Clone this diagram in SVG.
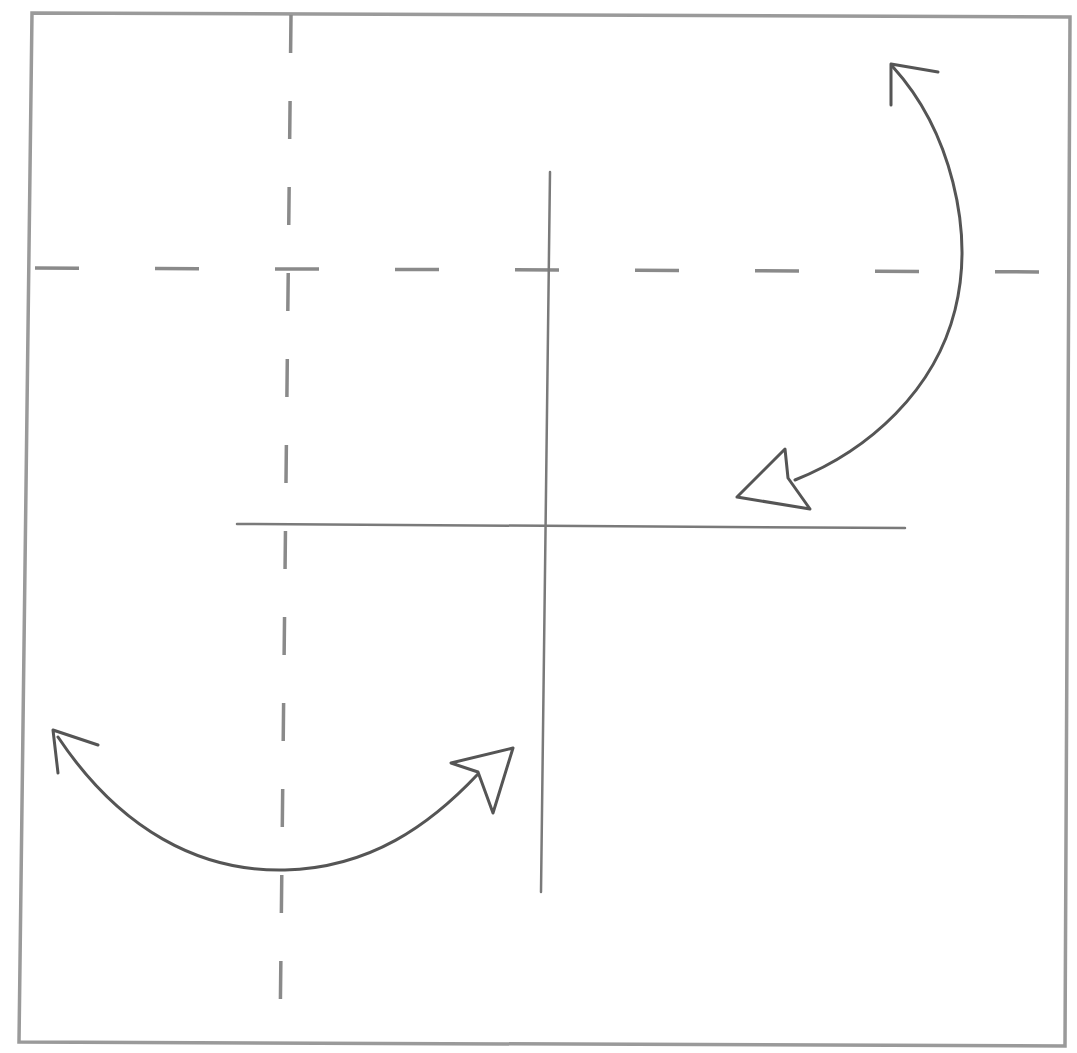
<svg xmlns="http://www.w3.org/2000/svg" width="1077" height="1053" viewBox="0 0 1077 1053">
  <style>
    .paper { fill: #ffffff; stroke: #9a9a9a; stroke-width: 3.5; }
    .crease { fill: none; stroke: #7a7a7a; stroke-width: 2.5; stroke-linecap: round; }
    .valley { fill: none; stroke: #8a8a8a; stroke-width: 3.5; stroke-dasharray: 44 76; }
    .arrow { fill: none; stroke: #555555; stroke-width: 3; stroke-linecap: round; stroke-linejoin: round; }
    .head { fill: #ffffff; stroke: #555555; stroke-width: 3; stroke-linejoin: round; }
  </style>
  <rect width="1077" height="1053" fill="#ffffff"/>
  <g id="paper">
    <polygon class="paper" points="32,13 1070,17 1065,1046 19,1042"/>
  </g>
  <g id="creases">
    <line class="valley" x1="35" y1="268" x2="1068" y2="272"/>
    <line class="valley" x1="291" y1="15" x2="280" y2="1040" style="stroke-dasharray:38 48"/>
    <line class="crease" x1="550" y1="172" x2="541" y2="892"/>
    <line class="crease" x1="237" y1="524" x2="905" y2="528"/>
  </g>
  <g id="connectors">
    <g id="arrow-top-right">
      <path class="arrow" d="M 893,67 C 950,130 975,230 955,310 C 935,390 870,450 795,480"/>
      <polyline class="arrow" points="938,72 891,64 891,105"/>
      <polygon class="head" points="737,497 785,449 788,478 810,509"/>
    </g>
    <g id="arrow-bottom-left">
      <path class="arrow" d="M 58,737 C 120,830 200,872 285,870 C 370,868 430,825 478,774"/>
      <polyline class="arrow" points="98,745 53,730 58,773"/>
      <polygon class="head" points="513,748 451,763 478,772 493,813"/>
    </g>
  </g>
</svg>
